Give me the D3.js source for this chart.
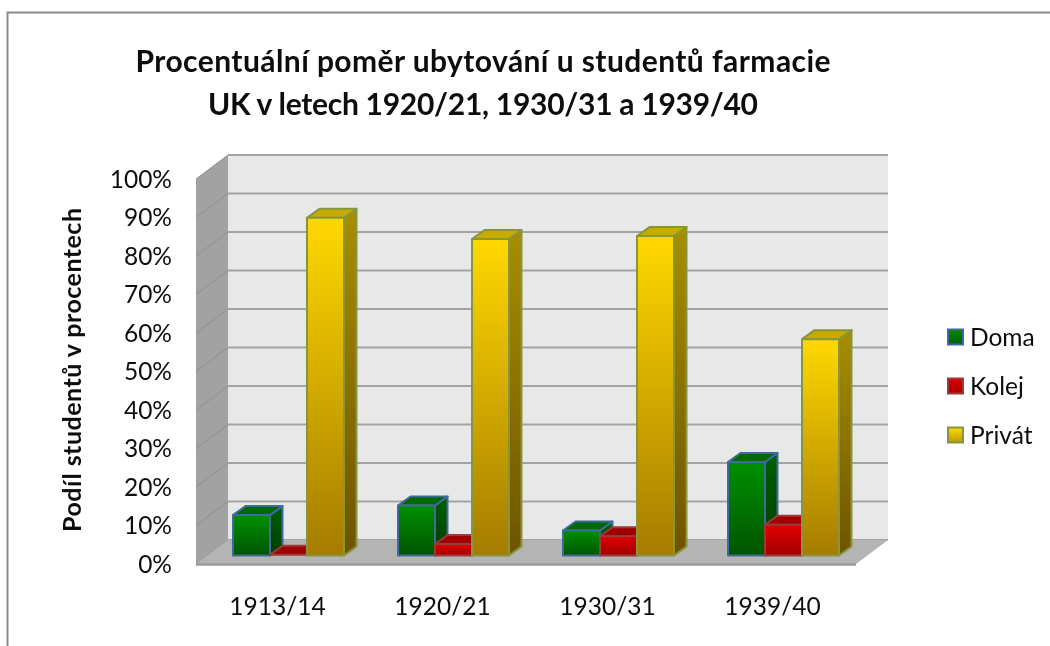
<!DOCTYPE html>
<html><head><meta charset="utf-8">
<script src="https://cdn.jsdelivr.net/npm/d3@7"></script>
<style>html,body{margin:0;padding:0;background:#fff}svg{display:block}text{font-family:Lato,"Open Sans",sans-serif;fill:#111}</style>
</head><body><svg id="c" width="1050" height="646"></svg>
<script>
const categories = ["1913/14","1920/21","1930/31","1939/40"];
const seriesNames = ["Doma","Kolej","Privát"];
const doma = [10.5,13,6.5,24.3];
const kolej = [0.2,3,5,8];
const privat = [87.7,82.2,83,56.2];
const ticks = [0,10,20,30,40,50,60,70,80,90,100];
const titleLines = ["Procentuální poměr ubytování u studentů farmacie","UK v letech 1920/21, 1930/31 a 1939/40"];
const titleWidths = [695,550];
const yTitle = "Podíl studentů v procentech";

const styles = [
 {stroke:"#3f6a9c",top:"#006a00",g:["#009000","#005400"],s:["#006000","#003c00"],lg:["#008a00","#006000"]},
 {stroke:"#9c3a3a",top:"#a00000",g:["#e00000","#a00000"],s:["#900000","#700000"],lg:["#e00000","#a80000"]},
 {stroke:"#86963c",top:"#c8aa00",g:["#ffd800","#a57c00"],s:["#a88e00","#6e5400"],lg:["#ffd800","#c09800"]}
];
const values = [doma,kolej,privat];
const svg = d3.select("#c");
const defs = svg.append("defs");
function grad(id,c){const g=defs.append("linearGradient").attr("id",id).attr("x1",0).attr("x2",0).attr("y1",0).attr("y2",1);
 g.append("stop").attr("offset",0).attr("stop-color",c[0]);g.append("stop").attr("offset",1).attr("stop-color",c[1]);}
styles.forEach((s,i)=>{grad("f"+i,s.g);grad("s"+i,s.s);grad("l"+i,s.lg);});
const blur=defs.append("filter").attr("id","soft").attr("x","-5%").attr("y","-5%").attr("width","110%").attr("height","110%");
blur.append("feGaussianBlur").attr("stdDeviation",0.45);

// frame
svg.append("path").attr("d","M1050,12.5H7.5V646").attr("fill","none").attr("stroke","#8c8c8c").attr("stroke-width",2);

const root = svg.append("g").attr("filter","url(#soft)");
const y = d3.scaleLinear().domain([0,100]).range([564,179]);
const x = d3.scaleBand().domain(categories).range([196,856]);
const depth = {dx:32,dy:-24};
const barD = {dx:12.5,dy:-9};
const barBase = 8.5;
const x0=x.range()[0], x1=x.range()[1];
const poly=(pts)=>"M"+pts.map(p=>p.join(",")).join("L")+"Z";

root.append("rect").attr("x",x0+depth.dx).attr("y",y(100)+depth.dy).attr("width",x1-x0).attr("height",y(0)-y(100)).attr("fill","#e8e8e8");
root.append("path").attr("d",poly([[x0,y(100)],[x0+depth.dx,y(100)+depth.dy],[x0+depth.dx,y(0)+depth.dy],[x0,y(0)]])).attr("fill","#a2a2a2");
ticks.forEach(t=>{
 root.append("line").attr("x1",x0+depth.dx).attr("x2",x1+depth.dx).attr("y1",y(t)+depth.dy).attr("y2",y(t)+depth.dy).attr("stroke","#a3a3a3").attr("stroke-width",2);
 root.append("line").attr("x1",x0).attr("x2",x0+depth.dx).attr("y1",y(t)).attr("y2",y(t)+depth.dy).attr("stroke","#8f8f8f").attr("stroke-width",1);
});
root.append("path").attr("d",poly([[x0,y(0)],[x0+depth.dx,y(0)+depth.dy],[x1+depth.dx,y(0)+depth.dy],[x1,y(0)]])).attr("fill","#b4b4b4");
root.append("line").attr("x1",x0).attr("x2",x1).attr("y1",y(0)+0.5).attr("y2",y(0)+0.5).attr("stroke","#9a9a9a").attr("stroke-width",2.5);

const inner = d3.scaleBand().domain(seriesNames).range([37,148]);
categories.forEach((c,ci)=>{
 seriesNames.forEach((n,si)=>{
  const v=values[si][ci], s=styles[si];
  const l=x(c)+inner(n), r=l+inner.bandwidth();
  const b=y(0)-barBase, t=y(v)-barBase;
  const g=root.append("g").attr("stroke",s.stroke).attr("stroke-width",2).attr("stroke-linejoin","round");
  g.append("path").attr("d",poly([[r,t],[r+barD.dx,t+barD.dy],[r+barD.dx,b+barD.dy],[r,b]])).attr("fill",`url(#s${si})`);
  g.append("path").attr("d",poly([[l,t],[l+barD.dx,t+barD.dy],[r+barD.dx,t+barD.dy],[r,t]])).attr("fill",s.top);
  if(b-t>1) g.append("rect").attr("x",l).attr("y",t).attr("width",r-l).attr("height",b-t).attr("fill",`url(#f${si})`);
 });
});

root.selectAll("text.tick").data(ticks).join("text").attr("class","tick")
 .attr("x",172).attr("y",d=>y(d)).attr("dy","0.35em").attr("text-anchor","end")
 .attr("font-size",24.5).text(d=>d+"%");
root.selectAll("text.cat").data(categories).join("text").attr("class","cat")
 .attr("x",d=>x(d)+x.bandwidth()/2-1).attr("y",606).attr("dy","0.35em").attr("text-anchor","middle")
 .attr("font-size",24.5).text(d=>d);
titleLines.forEach((t,i)=>root.append("text").attr("x",483).attr("y",72+i*43).attr("text-anchor","middle")
 .attr("font-size",30).attr("font-weight",700).attr("textLength",titleWidths[i]).attr("lengthAdjust","spacing").text(t));
root.append("text").attr("transform","translate(81,370) rotate(-90)").attr("text-anchor","middle")
 .attr("font-size",25).attr("font-weight",700).attr("textLength",324).attr("lengthAdjust","spacing").text(yTitle);
const ly=d3.scalePoint().domain(seriesNames).range([337,435]);
seriesNames.forEach((n,i)=>{
 root.append("rect").attr("x",948).attr("y",ly(n)-7.5).attr("width",15).attr("height",15)
  .attr("fill",`url(#l${i})`).attr("stroke",styles[i].stroke).attr("stroke-width",2);
 root.append("text").attr("x",970).attr("y",ly(n)).attr("dy","0.35em").attr("font-size",24.5).text(n);
});
</script></body></html>
